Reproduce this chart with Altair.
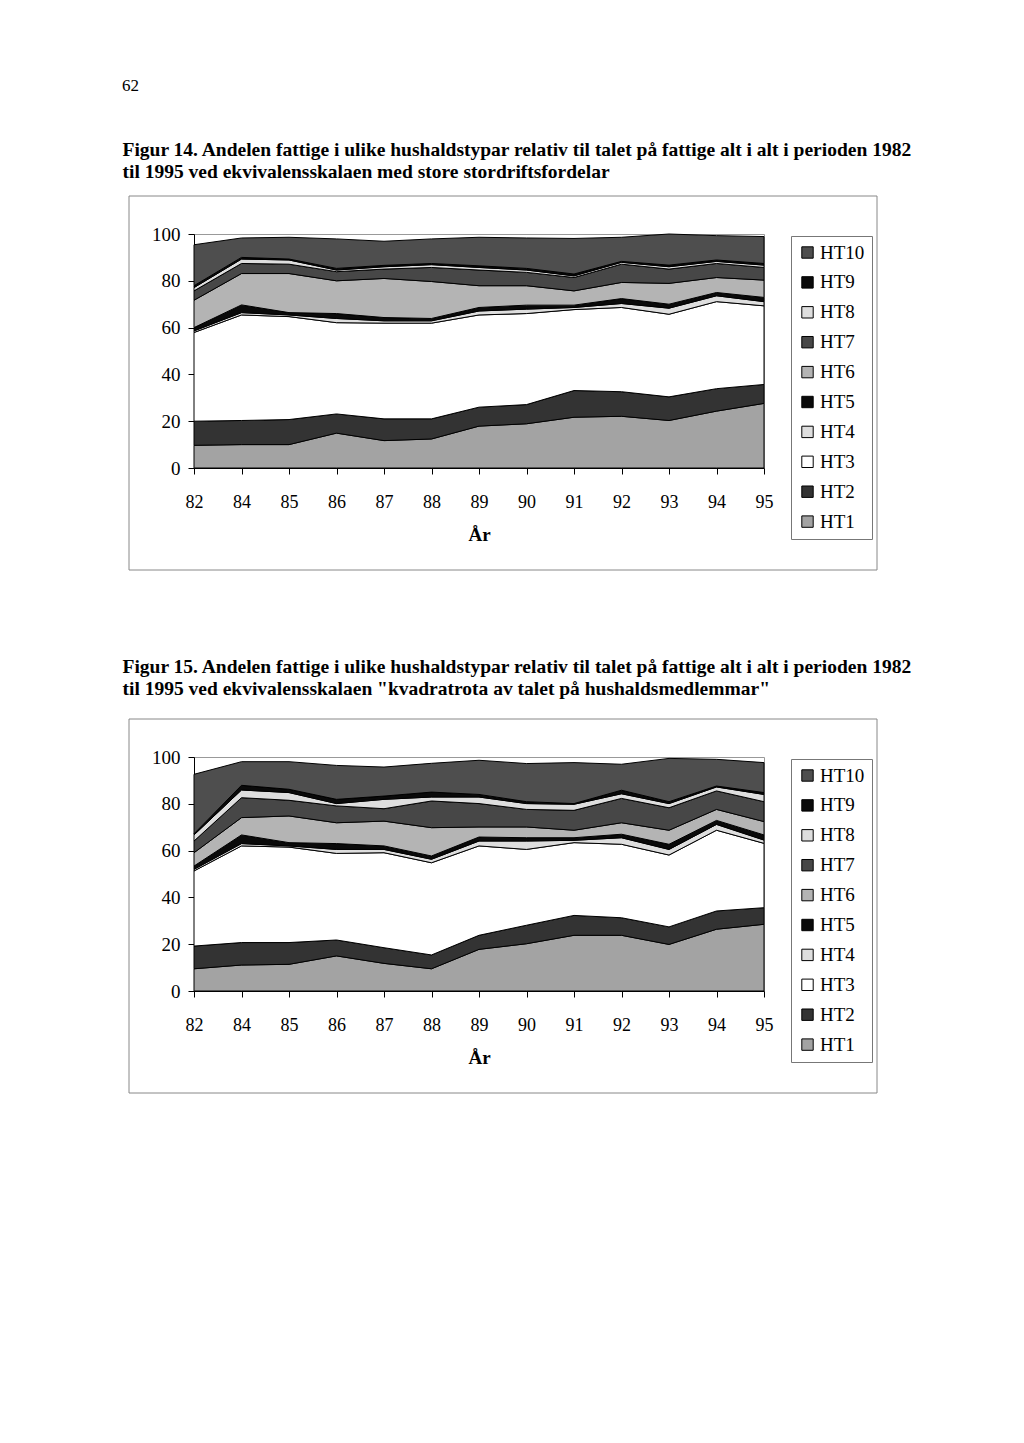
import altair as alt
import pandas as pd

years = ["82", "84", "85", "86", "87", "88", "89", "90", "91", "92", "93", "94", "95"]
series = ["HT1", "HT2", "HT3", "HT4", "HT5", "HT6", "HT7", "HT8", "HT9", "HT10"]

# Figur 14 (store stordriftsfordelar)
f14_HT1 = [9.7, 10.0, 10.0, 14.9, 11.7, 12.4, 17.9, 18.9, 21.7, 22.1, 20.3, 24.3, 27.6]
f14_HT2 = [10.3, 10.3, 10.7, 8.2, 9.3, 8.6, 8.1, 8.2, 11.4, 10.5, 10.1, 9.6, 8.1]
f14_HT3 = [37.9, 45.1, 44.0, 39.0, 40.9, 40.9, 39.4, 38.9, 34.6, 36.0, 35.3, 37.2, 33.6]
f14_HT4 = [0.7, 1.0, 0.7, 1.8, 1.0, 1.0, 1.7, 1.9, 0.9, 1.7, 2.6, 2.5, 1.8]
f14_HT5 = [1.4, 3.3, 1.0, 2.1, 1.4, 1.0, 1.5, 1.7, 1.0, 2.1, 1.7, 1.4, 1.8]
f14_HT6 = [11.7, 13.4, 16.7, 14.0, 16.7, 15.8, 9.3, 8.3, 6.1, 6.9, 8.9, 6.4, 7.4]
f14_HT7 = [4.0, 4.3, 4.0, 3.9, 4.0, 6.0, 6.7, 5.7, 5.7, 7.8, 6.1, 6.0, 5.4]
f14_HT8 = [1.4, 1.9, 1.8, 0.7, 1.0, 1.2, 1.1, 1.0, 0.7, 0.8, 1.0, 0.9, 1.0]
f14_HT9 = [0.8, 0.7, 0.4, 0.7, 0.6, 0.5, 0.7, 0.7, 0.8, 0.4, 0.7, 0.6, 0.7]
f14_HT10 = [17.5, 8.3, 9.3, 12.6, 10.3, 10.5, 12.2, 13.0, 15.2, 10.3, 13.3, 10.4, 11.5]

# Figur 15 (kvadratrota av talet på hushaldsmedlemmar)
f15_HT1 = [9.5, 11.1, 11.4, 15.0, 11.8, 9.5, 17.8, 20.2, 23.8, 23.8, 19.9, 26.4, 28.5]
f15_HT2 = [9.7, 9.6, 9.3, 6.8, 6.7, 5.9, 6.0, 7.9, 8.5, 7.5, 7.5, 7.8, 7.1]
f15_HT3 = [32.1, 41.3, 40.8, 37.0, 40.6, 39.4, 38.2, 32.4, 31.1, 31.4, 30.7, 34.5, 27.5]
f15_HT4 = [0.7, 1.0, 0.5, 1.7, 1.4, 1.5, 2.1, 3.6, 1.0, 2.8, 2.4, 2.5, 1.4]
f15_HT5 = [1.4, 3.7, 1.4, 2.5, 1.5, 1.4, 1.7, 1.4, 1.1, 1.5, 2.2, 1.7, 2.2]
f15_HT6 = [5.7, 7.4, 11.4, 8.9, 10.6, 12.1, 4.3, 4.6, 3.2, 4.9, 6.0, 4.7, 5.7]
f15_HT7 = [5.0, 8.5, 6.7, 7.2, 5.3, 11.4, 10.0, 7.5, 8.5, 10.4, 9.6, 7.9, 8.5]
f15_HT8 = [2.6, 3.3, 3.3, 1.0, 4.0, 1.7, 2.8, 2.5, 2.6, 2.0, 1.8, 1.7, 3.1]
f15_HT9 = [0.5, 2.0, 1.4, 1.8, 1.4, 2.1, 1.1, 0.8, 0.3, 1.5, 0.8, 0.4, 0.8]
f15_HT10 = [25.4, 10.1, 11.8, 14.5, 12.4, 12.3, 14.6, 16.3, 17.5, 11.1, 18.5, 11.4, 12.8]

colors = {
    "HT10": "#4e4e4e", "HT9": "#0a0a0a", "HT8": "#dedede", "HT7": "#474747",
    "HT6": "#b4b4b4", "HT5": "#0a0a0a", "HT4": "#dedede", "HT3": "#ffffff",
    "HT2": "#333333", "HT1": "#a3a3a3",
}
legend_order = list(reversed(series))

FONT = "Liberation Serif"


def build(values):
    rows = []
    for si, (name, vals) in enumerate(zip(series, values)):
        for yr, v in zip(years, vals):
            rows.append({"year": yr, "series": name, "value": v, "ord": si})
    return pd.DataFrame(rows)


def panel(values, title_lines, title_offset):
    df = build(values)
    area = alt.Chart(df).mark_area(stroke="black", strokeWidth=1, interpolate="linear").encode(
        x=alt.X("year:O", sort=years, title="År",
                scale=alt.Scale(padding=0),
                axis=alt.Axis(labelAngle=0, labelFont=FONT, labelFontSize=18, labelColor="black",
                              labelPadding=19, tickSize=6, tickColor="black", domainColor="black",
                              titleFont=FONT, titleFontSize=19, titleFontWeight="bold",
                              titleColor="black", titlePadding=14)),
        y=alt.Y("value:Q", stack="zero", title=None,
                scale=alt.Scale(domain=[0, 100], nice=False),
                axis=alt.Axis(values=[0, 20, 40, 60, 80, 100], grid=False, labelFont=FONT,
                              labelFontSize=19, labelColor="black", labelPadding=8, tickSize=6,
                              tickColor="black", domainColor="black")),
        color=alt.Color("series:N", sort=legend_order,
                        scale=alt.Scale(domain=legend_order, range=[colors[s] for s in legend_order]),
                        legend=alt.Legend(title=None, orient="none", legendX=597, legendY=2,
                                          labelFont=FONT, labelFontSize=19, labelColor="black",
                                          symbolType="square", symbolSize=130,
                                          symbolStrokeColor="black", symbolStrokeWidth=1,
                                          rowPadding=9.9, strokeColor="#777777", padding=7,
                                          labelOffset=3)),
        order=alt.Order("ord:Q", sort="ascending"),
    )
    frame = alt.Chart(pd.DataFrame({"a": [0]})).mark_rect(
        fill=None, stroke="#888888", strokeWidth=1
    ).encode(x=alt.value(-65), x2=alt.value(683), y=alt.value(-38), y2=alt.value(336))
    return alt.layer(frame, area).properties(
        width=570, height=234,
        title=alt.TitleParams(text=title_lines, anchor="start", font=FONT, fontSize=19.5,
                              fontWeight="bold", color="black", lineHeight=22,
                              offset=title_offset, dx=-6),
    )


c14 = panel([f14_HT1, f14_HT2, f14_HT3, f14_HT4, f14_HT5, f14_HT6, f14_HT7, f14_HT8, f14_HT9, f14_HT10],
            ["Figur 14. Andelen fattige i ulike hushaldstypar relativ til talet på fattige alt i alt i perioden 1982",
             "til 1995 ved ekvivalensskalaen med store stordriftsfordelar"], 13)
c15 = panel([f15_HT1, f15_HT2, f15_HT3, f15_HT4, f15_HT5, f15_HT6, f15_HT7, f15_HT8, f15_HT9, f15_HT10],
            ["Figur 15. Andelen fattige i ulike hushaldstypar relativ til talet på fattige alt i alt i perioden 1982",
             "til 1995 ved ekvivalensskalaen \"kvadratrota av talet på hushaldsmedlemmar\""], 19)

chart = alt.vconcat(c14, c15, spacing=85).resolve_legend(color="independent").resolve_scale(
    color="independent"
).properties(
    title=alt.TitleParams(text="62", anchor="start", font=FONT, fontSize=17, fontWeight="normal",
                          color="black", offset=45),
    padding={"left": 114, "top": 68, "right": 5, "bottom": 5},
).configure_view(stroke="#999999", strokeWidth=1)

chart.save("out.html", embed_options={"renderer": "svg", "actions": False})
